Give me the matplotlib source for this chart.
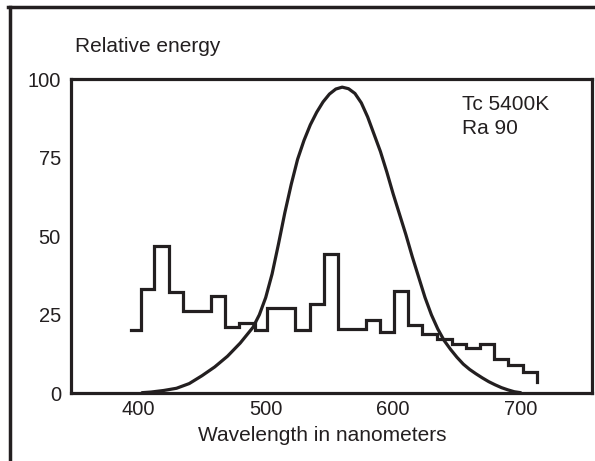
import matplotlib.pyplot as plt
from matplotlib.lines import Line2D

# step spectrum (bin edges in nm, relative energy per bin)
step_edges = [394, 402, 412.5, 424, 435, 457, 468, 479, 491.5, 501, 523, 535, 546, 557,
              579, 590, 600.5, 612, 623, 634, 646.5, 657.5, 668.5, 679.5, 690, 701.5, 713]
step_values = [20, 33.3, 46.8, 32.3, 26.2, 31, 21, 22.3, 20, 27.3, 20.2, 28.5, 44.5, 20.5,
               23.2, 19.5, 32.5, 21.8, 18.8, 17.4, 15.6, 14.3, 15.8, 11, 9, 6.9]
step_end = 3.5

# eye sensitivity curve
curve_nm = [403, 410, 420, 430, 440, 450, 460, 470, 480, 490, 495, 500, 505, 510, 515,
            520, 525, 530, 535, 540, 545, 550, 555, 560, 565, 570, 575, 580, 585, 590,
            595, 600, 605, 610, 615, 620, 625, 630, 635, 640, 645, 650, 655, 660, 665,
            670, 675, 680, 685, 690, 695, 700]
curve_values = [0.2, 0.4, 0.9, 1.6, 3.1, 5.6, 8.4, 11.8, 16.0, 21.0, 25.0, 30.5, 38.0,
                47.5, 57.5, 66.5, 74.5, 80.5, 85.5, 89.5, 92.8, 95.3, 96.9, 97.5, 97.0,
                95.5, 92.5, 88.0, 82.5, 77.0, 70.5, 63.5, 57.0, 50.5, 43.5, 37.0, 30.5,
                25.0, 20.5, 16.8, 14.0, 11.5, 9.3, 7.6, 6.2, 4.9, 3.7, 2.7, 1.8, 1.1,
                0.5, 0.2]

x_ticks = [400, 500, 600, 700]
y_ticks = [0, 25, 50, 75, 100]

ink = '#231f20'
plt.rcParams['font.family'] = ['Liberation Sans', 'DejaVu Sans']

fig = plt.figure(figsize=(5.95, 4.61), dpi=100)
ax = fig.add_axes([70.7 / 595, 1 - 393.3 / 461, (592 - 70.7) / 595, (393.3 - 79.3) / 461])

ax.plot(step_edges, step_values + [step_end], drawstyle='steps-post', color=ink, lw=2.3,
        solid_joinstyle='miter')
ax.plot(curve_nm, curve_values, color=ink, lw=2.3, solid_joinstyle='round',
        solid_capstyle='round')

ax.set_xlim(347, 756)
ax.set_ylim(0, 100)
ax.set_xticks(x_ticks)
ax.set_yticks(y_ticks)
ax.tick_params(length=0, labelsize=14.5, labelcolor=ink)
ax.tick_params(axis='x', pad=5)
ax.tick_params(axis='y', pad=7)
for s in ax.spines.values():
  s.set_linewidth(2.3)
  s.set_color(ink)

fig.text(75 / 595, 1 - 46.7 / 461, 'Relative energy', fontsize=15, color=ink, va='center')
fig.text(322 / 595, 1 - 435 / 461, 'Wavelength in nanometers', fontsize=15, color=ink,
         ha='center', va='center')
fig.text(461.7 / 595, 1 - 105 / 461, 'Tc 5400K', fontsize=15, color=ink, va='center')
fig.text(461.7 / 595, 1 - 128 / 461, 'Ra 90', fontsize=15, color=ink, va='center')

# outer frame, cut off at the right and bottom of the picture
fig.add_artist(Line2D([9.5 / 595, 9.5 / 595], [-0.1, 1 - 7 / 461], color=ink, lw=2.5))
fig.add_artist(Line2D([8.3 / 595, 1.1], [1 - 7 / 461, 1 - 7 / 461], color=ink, lw=2.5))

fig.savefig('out.png', dpi=100)
